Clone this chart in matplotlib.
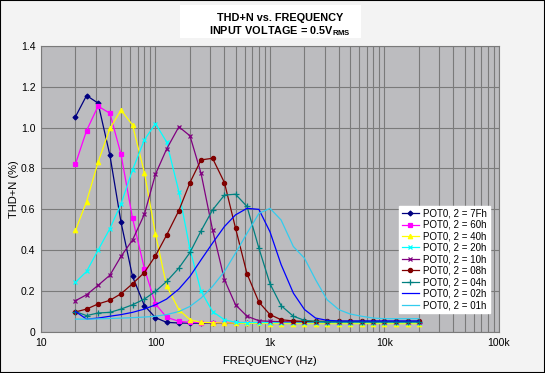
import matplotlib.pyplot as plt
from matplotlib.ticker import FixedLocator, LogLocator, NullFormatter

plt.rcParams['font.family'] = ['Liberation Sans', 'DejaVu Sans']
plt.rcParams['mathtext.fontset'] = 'custom'
plt.rcParams['mathtext.bf'] = 'Liberation Sans:bold'
plt.rcParams['mathtext.rm'] = 'Liberation Sans'

# 1/3 octave frequencies (Hz)
freq = [20, 25, 31.5, 40, 50, 63, 80, 100, 125, 160, 200, 250, 315, 400, 500,
        630, 800, 1000, 1250, 1600, 2000, 2500, 3150, 4000, 5000, 6300, 8000,
        10000, 12500, 16000, 20000]

# THD+N (%) per wiper setting
pot_7f = [1.053, 1.157, 1.12, 0.864, 0.537, 0.272, 0.129, 0.07, 0.047, 0.044,
          0.043, 0.043, 0.043, 0.043, 0.043, 0.043, 0.043, 0.043, 0.043, 0.043,
          0.043, 0.043, 0.043, 0.043, 0.043, 0.043, 0.043, 0.043, 0.043, 0.043, 0.043]
pot_60 = [0.822, 0.985, 1.105, 1.07, 0.869, 0.557, 0.31, 0.137, 0.072, 0.052,
          0.047, 0.046, 0.046, 0.046, 0.046, 0.046, 0.046, 0.046, 0.046, 0.046,
          0.046, 0.046, 0.046, 0.046, 0.046, 0.046, 0.046, 0.046, 0.046, 0.046, 0.046]
pot_40 = [0.497, 0.638, 0.83, 0.996, 1.086, 1.013, 0.78, 0.479, 0.226, 0.109,
          0.06, 0.047, 0.045, 0.044, 0.043, 0.042, 0.042, 0.041, 0.041, 0.041,
          0.041, 0.041, 0.041, 0.041, 0.041, 0.041, 0.041, 0.041, 0.041, 0.041, 0.041]
pot_20 = [0.243, 0.296, 0.40, 0.506, 0.627, 0.793, 0.94, 1.02, 0.93, 0.687,
          0.405, 0.199, 0.10, 0.06, 0.047, 0.046, 0.046, 0.046, 0.046, 0.046,
          0.046, 0.046, 0.046, 0.046, 0.046, 0.046, 0.046, 0.046, 0.046, 0.046, 0.046]
pot_10 = [0.153, 0.182, 0.228, 0.278, 0.37, 0.45, 0.576, 0.772, 0.895, 1.004,
          0.96, 0.776, 0.50, 0.256, 0.133, 0.077, 0.055, 0.052, 0.05, 0.05,
          0.05, 0.05, 0.05, 0.05, 0.05, 0.05, 0.05, 0.05, 0.05, 0.05, 0.05]
pot_08 = [0.098, 0.112, 0.137, 0.155, 0.187, 0.236, 0.291, 0.373, 0.474, 0.594,
          0.731, 0.842, 0.85, 0.731, 0.508, 0.285, 0.146, 0.085, 0.06, 0.054,
          0.052, 0.052, 0.052, 0.052, 0.052, 0.052, 0.052, 0.052, 0.052, 0.052, 0.052]
pot_04 = [0.10, 0.08, 0.093, 0.096, 0.112, 0.133, 0.161, 0.199, 0.247, 0.313,
          0.389, 0.495, 0.597, 0.67, 0.674, 0.614, 0.41, 0.236, 0.129, 0.077,
          0.057, 0.052, 0.05, 0.05, 0.05, 0.05, 0.05, 0.05, 0.05, 0.05, 0.05]
pot_02 = [0.10, 0.063, 0.068, 0.077, 0.085, 0.096, 0.112, 0.133, 0.161, 0.21,
          0.272, 0.353, 0.435, 0.516, 0.573, 0.605, 0.60, 0.49, 0.33, 0.19,
          0.11, 0.068, 0.057, 0.054, 0.054, 0.054, 0.054, 0.054, 0.054, 0.054, 0.054]
pot_01 = [0.063, 0.063, 0.064, 0.066, 0.068, 0.07, 0.073, 0.077, 0.085, 0.10,
          0.125, 0.166, 0.223, 0.296, 0.386, 0.483, 0.58, 0.605, 0.548, 0.418,
          0.361, 0.256, 0.158, 0.109, 0.088, 0.077, 0.068, 0.065, 0.065, 0.065, 0.065]

series = [
    ("POT0, 2 = 7Fh", pot_7f, "#000080", "D", 2.5),
    ("POT0, 2 = 60h", pot_60, "#ff00ff", "s", 2.8),
    ("POT0, 2 = 40h", pot_40, "#ffff00", "^", 3.2),
    ("POT0, 2 = 20h", pot_20, "#00ffff", "x", 3),
    ("POT0, 2 = 10h", pot_10, "#800080", "x", 3),
    ("POT0, 2 = 08h", pot_08, "#800000", "o", 3),
    ("POT0, 2 = 04h", pot_04, "#008080", "+", 4),
    ("POT0, 2 = 02h", pot_02, "#0000ff", None, 0),
    ("POT0, 2 = 01h", pot_01, "#33ccee", None, 0),
]

fig = plt.figure(figsize=(5.45, 3.73), dpi=100)
fig.patch.set_facecolor("#f3f3f3")
ax = fig.add_axes([0.0752, 0.110, 0.8404, 0.767])
ax.set_facecolor("#bcbcbf")

for label, vals, color, marker, ms in series:
    ax.plot(freq, vals, color=color, lw=0.9, marker=marker, markersize=ms,
            markeredgewidth=0.9, label=label)

ax.set_xscale("log")
ax.set_xlim(10, 100000)
ax.set_ylim(0, 1.4)
ax.xaxis.set_major_locator(FixedLocator([10, 100, 1000, 10000, 100000]))
ax.set_xticklabels(["10", "100", "1k", "10k", "100k"])
ax.xaxis.set_minor_locator(LogLocator(base=10, subs=range(2, 10), numticks=20))
ax.xaxis.set_minor_formatter(NullFormatter())
ax.set_yticks([0, 0.2, 0.4, 0.6, 0.8, 1.0, 1.2, 1.4])
ax.set_yticklabels(["0", "0.2", "0.4", "0.6", "0.8", "1.0", "1.2", "1.4"])
ax.grid(True, which="both", axis="x", color="#7a7a7a", lw=0.8)
ax.grid(True, which="major", axis="y", color="#7a7a7a", lw=0.8)
ax.set_axisbelow(True)
ax.tick_params(which="both", length=0, labelsize=7.5, pad=4)
for s in ax.spines.values():
    s.set_color("#7a7a7a")
    s.set_linewidth(0.8)

ax.set_xlabel("FREQUENCY (Hz)", fontsize=8, labelpad=6)
ax.set_ylabel("THD+N (%)", fontsize=8, labelpad=1)

# title box
fig.add_artist(plt.Rectangle((0.33, 0.898), 0.332, 0.089, transform=fig.transFigure,
                             facecolor="white", edgecolor="none"))
fig.text(0.514, 0.9445, "THD+N vs. FREQUENCY", ha="center", va="baseline",
         fontsize=7.8, fontweight="bold")
fig.text(0.514, 0.908, r"INPUT VOLTAGE = 0.5V$_{\mathbf{RMS}}$", ha="center",
         va="baseline", fontsize=7.8, fontweight="bold")

leg = ax.legend(loc="lower right", bbox_to_anchor=(0.98, 0.066), fontsize=7,
                frameon=True, fancybox=False, handlelength=1.8,
                handletextpad=0.4, borderpad=0.3, labelspacing=0.15,
                borderaxespad=0)
leg.get_frame().set_facecolor("white")
leg.get_frame().set_edgecolor("white")
leg.get_frame().set_alpha(1)

fig.add_artist(plt.Rectangle((0, 0), 1, 1, transform=fig.transFigure,
                             fill=False, edgecolor="black", lw=1.5))

fig.savefig("out.png", dpi=100, facecolor=fig.get_facecolor())
